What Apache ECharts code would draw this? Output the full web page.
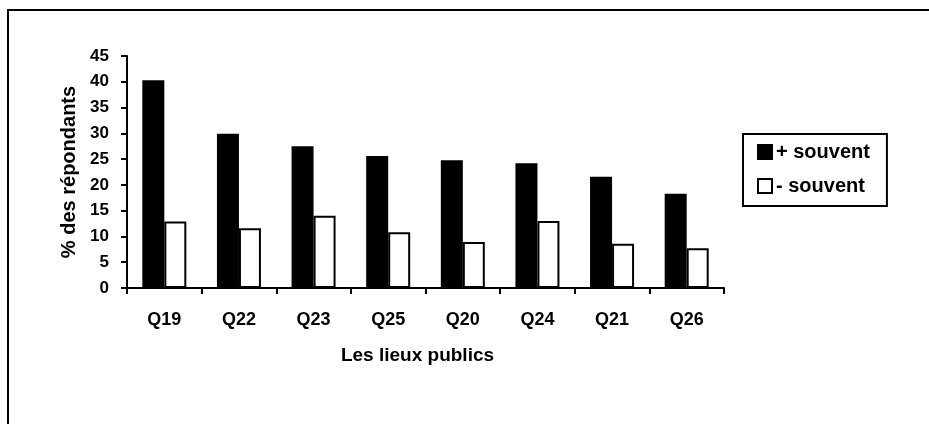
<!DOCTYPE html>
<html>
<head>
<meta charset="utf-8">
<script src="https://cdn.jsdelivr.net/npm/echarts@6/dist/echarts.min.js"></script>
<style>
html,body{margin:0;padding:0;background:#fff;}
#chart{width:929px;height:424px;}
</style>
</head>
<body>
<div id="chart"></div>
<script>
const categories = ['Q19','Q22','Q23','Q25','Q20','Q24','Q21','Q26'];
const plusSouvent = [40.3, 29.9, 27.5, 25.6, 24.8, 24.2, 21.6, 18.3];
const moinsSouvent = [12.9, 11.6, 14.0, 10.8, 8.9, 13.0, 8.6, 7.7];
const seriesNames = ['+ souvent', '- souvent'];
const xTitle = 'Les lieux publics';
const yTitle = '% des répondants';

const FONT = 'Liberation Sans, Arial, sans-serif';
const chart = echarts.init(document.getElementById('chart'), null, {renderer: 'canvas'});
chart.setOption({
  animation: false,
  backgroundColor: '#ffffff',
  graphic: [{
    type: 'rect',
    shape: {x: 8, y: 10, width: 2000, height: 2000},
    style: {fill: 'none', stroke: '#000', lineWidth: 2},
    silent: true
  }],
  grid: {left: 127, right: 205, top: 56, bottom: 136},
  legend: {
    orient: 'vertical',
    left: 743, top: 134,
    padding: [8, 17, 10, 14],
    borderColor: '#000', borderWidth: 2,
    icon: 'rect',
    itemWidth: 14, itemHeight: 14, itemGap: 14,
    textStyle: {fontFamily: FONT, fontWeight: 'bold', fontSize: 20, color: '#000', lineHeight: 20, padding: [0, 0, 0, -1]},
    data: seriesNames
  },
  xAxis: {
    type: 'category',
    data: categories,
    name: xTitle,
    nameLocation: 'middle',
    nameGap: 58,
    nameTextStyle: {fontFamily: FONT, fontWeight: 'bold', fontSize: 19, color: '#000', padding: [0, 16, 0, 0]},
    axisLine: {lineStyle: {color: '#000', width: 2}},
    axisTick: {show: true, length: 6, inside: false, lineStyle: {color: '#000', width: 2}},
    axisLabel: {fontFamily: FONT, fontWeight: 'bold', fontSize: 18, color: '#000', margin: 23}
  },
  yAxis: {
    type: 'value',
    min: 0, max: 45, interval: 5,
    name: yTitle,
    nameLocation: 'middle',
    nameRotate: 90,
    nameGap: 48,
    nameTextStyle: {fontFamily: FONT, fontWeight: 'bold', fontSize: 20, color: '#000'},
    axisLine: {show: true, lineStyle: {color: '#000', width: 2}},
    axisTick: {show: true, length: 6, inside: false, lineStyle: {color: '#000', width: 2}},
    axisLabel: {fontFamily: FONT, fontWeight: 'bold', fontSize: 17, color: '#000', margin: 18},
    splitLine: {show: false}
  },
  series: [
    {
      name: seriesNames[0], type: 'bar', data: plusSouvent,
      barWidth: 22, barGap: '0%',
      itemStyle: {color: '#000', borderColor: '#000', borderWidth: 1.5}
    },
    {
      name: seriesNames[1], type: 'bar', data: moinsSouvent,
      barWidth: 22, barGap: '0%',
      itemStyle: {color: '#fff', borderColor: '#000', borderWidth: 2}
    }
  ]
});
</script>
</body>
</html>
